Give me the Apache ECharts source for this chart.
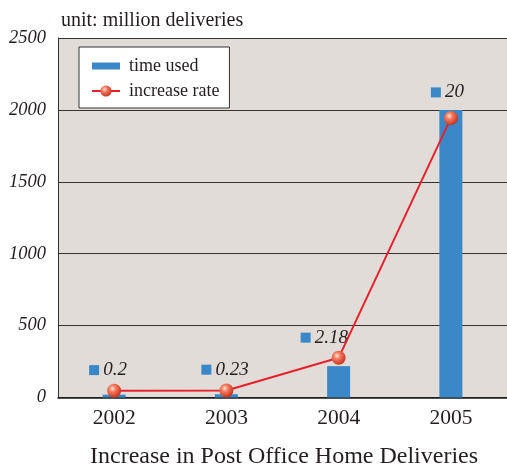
<!DOCTYPE html>
<html>
<head>
<meta charset="utf-8">
<style>
  html, body { margin: 0; padding: 0; background: #ffffff; }
  #chart { width: 507px; height: 466px; }
</style>
<script src="https://cdn.jsdelivr.net/npm/echarts@6/dist/echarts.min.js"></script>
</head>
<body>
<div id="chart"></div>
<script>
// Home deliveries handled by the post office, 2002–2005
const years = ['2002', '2003', '2004', '2005'];
const timeUsed = [0.2, 0.23, 2.18, 20];          // bar series (labelled values)
const increaseRate = [47, 49, 276, 1943];        // line series, million deliveries
const yTicks = [0, 500, 1000, 1500, 2000, 2500];

// label placement tweaks per bar (px), kept apart from the data
const labelShift = [[-25, -15], [-25, -15], [-38, -19], [-20, -8]];

const serif = '"Liberation Serif", "DejaVu Serif", serif';
const ink = '#231f20';
const blue = '#3a88c8';
const red = '#e8202a';

const ball = {
  type: 'radial', x: 0.38, y: 0.35, r: 0.7,
  colorStops: [
    { offset: 0, color: '#ffe0d4' },
    { offset: 0.35, color: '#f27a5e' },
    { offset: 1, color: '#c72a18' }
  ]
};

const chart = echarts.init(document.getElementById('chart'), null, { renderer: 'canvas' });

chart.setOption({
  animation: false,
  backgroundColor: '#ffffff',
  title: [
    {
      text: 'unit: million deliveries',
      left: 56, top: 6,
      textStyle: { fontFamily: serif, fontSize: 20, fontWeight: 'normal', color: ink }
    },
    {
      text: 'Increase in Post Office Home Deliveries',
      left: 85, top: 440,
      textStyle: { fontFamily: serif, fontSize: 24, fontWeight: 'normal', color: ink }
    }
  ],
  legend: {
    orient: 'vertical',
    left: 79, top: 47,
    backgroundColor: '#ffffff',
    borderColor: '#333333',
    borderWidth: 1,
    padding: [10, 10, 8, 12],
    itemGap: 7,
    itemWidth: 28,
    itemHeight: 14,
    textStyle: { fontFamily: serif, fontSize: 18, color: ink, padding: [0, 0, 0, 4] },
    data: [
      { name: 'time used', icon: 'path://M0,0H28V7H0Z' },
      { name: 'increase rate' }
    ]
  },
  grid: {
    left: 58, top: 38, width: 453, height: 359.5,
    show: true, backgroundColor: '#e2dcd9', borderWidth: 0
  },
  xAxis: {
    type: 'category',
    data: years,
    axisLine: { show: true, lineStyle: { color: '#1a1a1a', width: 1.5 } },
    axisTick: { show: false },
    axisLabel: { fontFamily: serif, fontSize: 21.5, color: ink, margin: 10 }
  },
  yAxis: [
    {
      type: 'value',
      min: yTicks[0], max: yTicks[yTicks.length - 1], interval: yTicks[1] - yTicks[0],
      axisLine: { show: true, lineStyle: { color: '#333333', width: 1 } },
      axisTick: { show: false },
      splitLine: { show: true, lineStyle: { color: '#333333', width: 1 } },
      axisLabel: {
        fontFamily: serif, fontSize: 18.5, fontStyle: 'italic', color: ink, margin: 12,
        formatter: v => String(v)
      }
    },
    {
      type: 'value', min: 0, max: 25, show: false,
      splitLine: { show: false }
    }
  ],
  series: [
    {
      name: 'time used',
      type: 'bar',
      yAxisIndex: 1,
      barWidth: 23,
      itemStyle: { color: blue },
      data: timeUsed.map((v, i) => ({
        value: v,
        label: { offset: labelShift[i] }
      })),
      label: {
        show: true,
        position: 'top',
        distance: 0,
        align: 'left',
        formatter: p => '{sq|}{v|' + p.value + '}',
        rich: {
          sq: { width: 10, height: 10, backgroundColor: blue },
          v: { fontFamily: serif, fontSize: 19, fontStyle: 'italic', color: ink, padding: [0, 0, 0, 4] }
        }
      },
      z: 2
    },
    {
      name: 'increase rate',
      type: 'line',
      data: increaseRate,
      symbol: 'circle',
      symbolSize: 14,
      lineStyle: { color: red, width: 2 },
      itemStyle: { color: ball, borderWidth: 0 },
      z: 3
    }
  ]
});
</script>
</body>
</html>
